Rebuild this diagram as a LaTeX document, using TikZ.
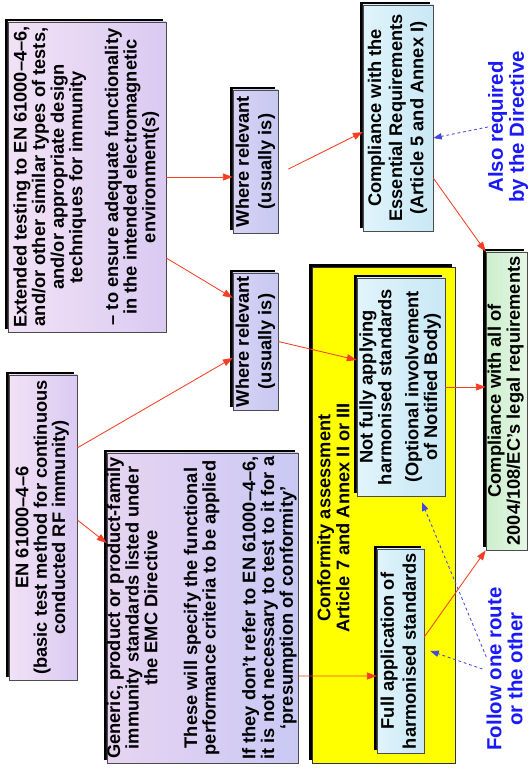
\documentclass[tikz,border=0pt]{standalone}
\usepackage{fontspec}
\setmainfont{Liberation Sans}
\usetikzlibrary{arrows.meta,shadows}

\definecolor{arrowred}{RGB}{245,62,35}
\definecolor{routeblue}{RGB}{70,70,225}
\definecolor{noteblue}{RGB}{25,25,250}
\definecolor{lavL}{RGB}{242,226,246}
\definecolor{lavR}{RGB}{218,202,242}
\definecolor{genL}{RGB}{232,212,242}
\definecolor{genR}{RGB}{201,201,244}
\definecolor{whereL}{RGB}{216,210,245}
\definecolor{whereR}{RGB}{200,200,242}
\definecolor{cyanL}{RGB}{224,244,251}
\definecolor{cyanR}{RGB}{201,232,245}
\definecolor{greenL}{RGB}{205,238,205}
\definecolor{greenR}{RGB}{228,247,228}
\definecolor{confyellow}{RGB}{255,255,0}

% rotated block of centred lines
\newcommand{\rtext}[2][12.8pt]{\rotatebox{90}{\fontsize{13}{#1}\selectfont
  \begin{tabular}{@{}c@{}}#2\end{tabular}}}

\tikzset{
  box/.style={draw=black!70, line width=0.4pt, inner sep=0pt,
    drop shadow={shadow xshift=-0.075cm, shadow yshift=0.075cm, fill=black, opacity=1}},
  lavbox/.style={box, left color=lavL, right color=lavR},
  genbox/.style={box, left color=genL, right color=genR},
  wherebox/.style={box, left color=whereL, right color=whereR},
  cyanbox/.style={box, left color=cyanL, right color=cyanR},
  greenbox/.style={box, left color=greenL, right color=greenR},
  redarrow/.style={draw=arrowred, line width=0.6pt, -{Triangle[length=7pt,width=5pt]}},
  bluearrow/.style={draw=routeblue, line width=0.6pt, dash pattern=on 2pt off 2pt,
    -{Triangle[length=6pt,width=4.5pt]}},
  bluenote/.style={inner sep=0pt, text=noteblue, font=\bfseries}
}

\begin{document}
\begin{tikzpicture}[x=0.025cm, y=-0.025cm, font=\bfseries]
\useasboundingbox (0,0) rectangle (528,776);

\node[lavbox, minimum width=3.95cm, minimum height=7.75cm] (ext) at (87,177)
  {\rtext{Extended testing to EN 61000--4--6,\\and/or other similar types of tests,\\and/or appropriate design\\techniques for immunity\\[12pt]-- to ensure adequate functionality\\in the intended electromagnetic\\environment(s)}};
\node[lavbox, minimum width=1.7cm, minimum height=7.625cm] (basic) at (43,527.5)
  {\rtext[12.2pt]{EN 61000--4--6\\(basic test method for continuous\\conducted RF immunity)}};
\node[genbox, minimum width=4.525cm, minimum height=7.75cm] (generic) at (202.5,608)
  {\rtext{Generic, product or product-family\\immunity standards listed under\\the EMC Directive\\[15pt]These will specify the functional\\performance criteria to be applied\\[15pt]If they don't refer to EN 61000--4--6,\\it is not necessary to test to it for a\\`presumption of conformity'}};
\node[wherebox, minimum width=1.125cm, minimum height=3.575cm] (whereA) at (255.5,161.5)
  {\rtext[16pt]{Where relevant\\(usually is)}};
\node[wherebox, minimum width=1.125cm, minimum height=3.425cm] (whereB) at (255.5,341.5)
  {\rtext[16pt]{Where relevant\\(usually is)}};
\node[cyanbox, minimum width=1.75cm, minimum height=5.65cm] (essential) at (398,118)
  {\rtext[15pt]{Compliance with the\\Essential Requirements\\(Article 5 and Annex I)}};

% conformity assessment
\node[box, fill=confyellow, draw=black!80, minimum width=3.575cm, minimum height=12.4cm] (conf) at (383.5,515) {};
\node[inner sep=0pt] (conftitle) at (336,518)
  {\rtext[13.5pt]{Conformity assessment\\Article 7 and Annex II or III}};
\node[cyanbox, minimum width=2.2cm, minimum height=5.45cm] (notfully) at (401,387)
  {\rtext{Not fully applying\\harmonised standards\\[6pt](Optional involvement\\of Notified Body)}};
\node[cyanbox, minimum width=1.175cm, minimum height=5.1cm] (full) at (400.5,651)
  {\rtext[15.5pt]{Full application of\\harmonised standards}};

\node[greenbox, minimum width=1.025cm, minimum height=7.45cm] (legal) at (506.5,401)
  {\rtext[13.5pt]{Compliance with all of\\2004/108/EC's legal requirements}};

\node[bluenote] (also) at (509,127)
  {\rotatebox{90}{\fontsize{14.5}{14.5pt}\selectfont\begin{tabular}{@{}c@{}}Also required\\by the Directive\end{tabular}}};
\node[bluenote] (follow) at (507.5,669)
  {\rotatebox{90}{\fontsize{14.5}{14.5pt}\selectfont\begin{tabular}{@{}c@{}}Follow one route\\or the other\end{tabular}}};

% red arrows
\draw[redarrow] (ext.east) -- (ext.east -| whereA.west);
\draw[redarrow] ([yshift=-2.025cm]ext.east) -- ([yshift=1.09cm]whereB.west);
\draw[redarrow] ([xshift=0.25cm,yshift=-0.19cm]whereA.east) -- ([yshift=-0.35cm]essential.west);
\draw[redarrow] ([yshift=1.99cm]basic.east) -- ([yshift=-0.41cm]whereB.west);
\draw[redarrow] ([yshift=0.19cm]basic.east) -- ([yshift=1.625cm]generic.west);
\draw[redarrow] (whereB.east) -- ([yshift=0.675cm]notfully.west);
\draw[redarrow] ([yshift=-1.7cm]generic.east) -- ([yshift=-0.625cm]full.west);
\draw[redarrow] (notfully.east) -- (notfully.east -| legal.west);
\draw[redarrow] ([yshift=-1.5cm]essential.east) -- (legal.north west);
\draw[redarrow] ([yshift=0.35cm]full.east) -- (legal.south west);

% blue notes
\draw[bluearrow] (also.west) -- ([yshift=-0.5cm]essential.east);
\draw[bluearrow] ([yshift=0.3cm]follow.west) -- ([xshift=0.525cm,yshift=-0.15cm]notfully.south);
\draw[bluearrow] ([xshift=-0.1cm]follow.west) -- ([xshift=0.15cm]full.east);
\end{tikzpicture}
\end{document}
